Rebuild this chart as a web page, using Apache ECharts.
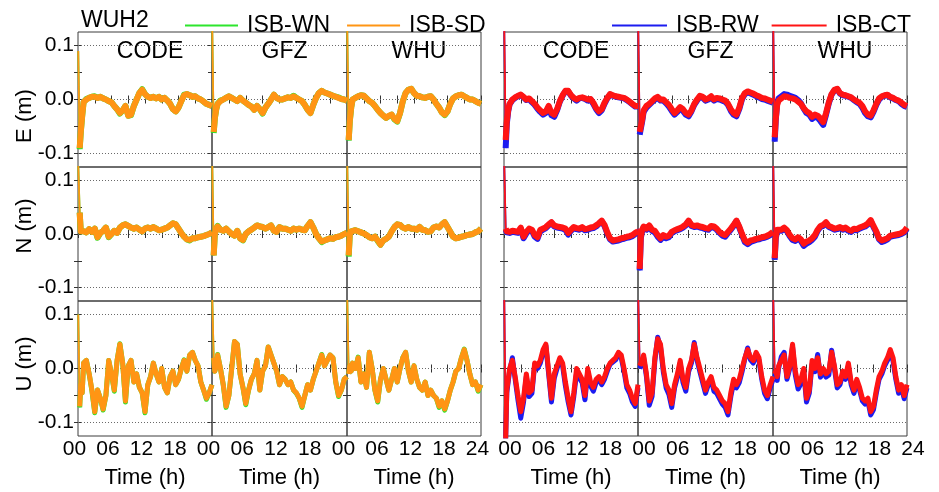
<!DOCTYPE html>
<html>
<head>
<meta charset="utf-8">
<script src="https://cdn.jsdelivr.net/npm/echarts@6/dist/echarts.min.js"></script>
<style>
html,body{margin:0;padding:0;background:#fff;}
#chart{width:939px;height:492px;}
</style>
</head>
<body>
<div id="chart"></div>
<script>
// Sample times (h) shared by every series
const hours = [0.05,0.3,0.5,0.75,1,1.5,2,2.5,3,3.5,4,4.5,5,5.5,6,6.5,7,7.5,8,8.5,9,9.5,10,10.5,11,11.5,12,12.5,13,13.5,14,14.5,15,15.5,16,16.5,17,17.5,18,18.5,19,19.5,20,20.5,21,21.5,22,22.5,23,23.5,24];

// Position errors in mm — ISB-SD
const sdE_CODE = [90,-90,-60,-30,-5, 0,3,5,5,3,5,2,0,-3,-5, -12,-18,-25,-20,-12,-30,-28,-12,0,12, 18,10,5,3,5,2,5,0,3,-2, -8,-18,-22,-15,-3,8,10,8,5,6, 2,0,-4,-8,-10,-12];
const sdE_GFZ = [130,-60,-35,-18,-8, -3,0,3,6,3,0,-3,3,-2,-6, -10,-13,-19,-12,-18,-25,-15,-8,0,9, 3,0,0,2,4,3,6,3,0,-3, -10,-19,-25,-10,3,12,16,13,11,9, 7,5,3,1,0,-2];
const sdE_WHU = [130,-75,-40,-15,0, 3,6,8,7,2,-3,-6,-12,-19,-25, -30,-34,-30,-28,-36,-40,-25,-3,12,18, 20,12,7,6,4,3,5,6,0,-8, -15,-24,-28,-22,-8,2,6,8,9,6, 3,0,0,-3,-6,-8];
const sdN_CODE = [130,40,5,8,5, 3,9,4,10,-6,2,6,12,-5,0, 6,2,12,16,18,15,12,10,12,8, 5,10,12,10,13,10,7,8,10,12, 16,20,18,10,2,-5,-10,-11,-8,-8, -6,-5,-4,-2,0,3];
const sdN_GFZ = [130,-40,0,10,14, 8,6,10,5,0,-3,6,-8,-11,0, 5,8,12,16,14,13,10,13,16,6, 4,13,10,10,8,6,10,8,10,8, 7,15,22,12,0,-8,-14,-12,-10,-8, -9,-6,-5,-3,0,2];
const sdN_WHU = [130,-40,0,5,4, 7,5,3,1,-2,-6,-8,-5,-12,-20, -12,-9,-5,5,13,18,17,12,10,13, 10,10,8,13,8,7,4,5,12,14, 12,18,22,13,4,-5,-8,-7,-5,-4, -2,-1,0,3,5,10];
const sdU_CODE = [100,-70,-30,-45,10, 15,-10,-40,-80,-40,-55,-75,-50,15,-10, -40,15,45,10,-60,5,15,-25,-10,-35, -45,-80,-30,-15,10,-10,-25,0,-35,-45, -15,-5,-30,-20,0,15,-5,25,30,15, 5,-25,-40,-55,-45,-30];
const sdU_GFZ = [130,20,-5,5,25, 0,-30,-70,-50,0,50,45,-10,-35,-65, -40,-20,-10,15,-40,-5,5,40,25,10, -5,-30,-15,-20,-30,-25,-40,-45,-55,-70, -50,-30,-40,-20,-5,10,25,5,15,25, 20,-25,-50,-40,-20,-15];
const sdU_WHU = [130,-10,5,-5,10, 0,20,-25,-10,-35,30,0,-40,-60,-20, 0,-20,-40,-20,0,-25,0,20,30,-5, -25,5,-20,-35,-40,-25,-50,-40,-50,-55, -70,-60,-75,-60,-40,-25,-5,0,20,35, 15,-10,-30,-25,-40,-30];

// ISB-WN
const wnE_CODE = [90,-92,-60,-30,-5, 1,3,5,6,3,5,2,0,-3,-5, -12,-18,-26,-20,-12,-30,-29,-12,0,12, 19,10,5,3,5,2,5,0,3,-2, -8,-18,-22,-15,-3,9,10,8,5,6, 2,0,-4,-8,-10,-12];
const wnE_GFZ = [130,-62,-35,-18,-8, -2,0,3,6,3,0,-3,3,-2,-6, -10,-13,-19,-12,-18,-26,-15,-8,0,9, 3,0,0,2,4,3,7,3,0,-3, -10,-19,-25,-10,3,12,16,13,11,9, 7,5,4,1,0,-2];
const wnE_WHU = [130,-76,-40,-15,0, 3,6,8,7,2,-3,-6,-12,-19,-25, -30,-34,-31,-28,-37,-41,-25,-3,12,18, 20,12,7,6,4,3,5,6,0,-8, -15,-24,-29,-22,-8,2,6,8,9,6, 3,0,0,-3,-6,-8];
const wnN_CODE = [130,40,5,8,5, 3,9,4,10,-7,2,6,12,-6,0, 6,2,12,16,18,15,12,10,12,8, 5,10,12,10,13,10,7,8,10,12, 16,20,18,10,2,-5,-10,-12,-8,-8, -6,-5,-4,-2,0,3];
const wnN_GFZ = [130,-40,0,10,15, 8,6,10,5,0,-3,6,-8,-12,0, 5,8,12,16,14,13,10,13,16,6, 4,13,10,10,8,6,10,8,10,8, 7,15,22,12,0,-8,-15,-12,-10,-8, -9,-6,-5,-3,0,2];
const wnN_WHU = [130,-42,0,5,4, 7,5,3,1,-2,-6,-8,-5,-13,-20, -12,-9,-5,5,13,18,17,12,10,13, 10,10,8,13,8,7,4,5,12,14, 12,18,22,13,4,-5,-8,-7,-5,-4, -2,-1,0,3,5,10];
const wnU_CODE = [100,-72,-30,-45,10, 15,-10,-42,-82,-40,-55,-77,-50,15,-10, -42,15,46,10,-62,5,15,-25,-10,-35, -45,-82,-30,-15,10,-10,-25,0,-35,-45, -15,-5,-30,-20,0,16,-5,25,30,15, 5,-25,-40,-57,-45,-30];
const wnU_GFZ = [130,20,-5,5,26, 0,-30,-72,-50,0,50,45,-10,-35,-67, -40,-20,-10,15,-40,-5,5,40,25,10, -5,-30,-15,-20,-30,-25,-40,-46,-55,-72, -50,-30,-40,-20,-5,10,26,5,15,25, 20,-25,-52,-40,-20,-15];
const wnU_WHU = [130,-10,5,-5,10, 0,21,-25,-10,-35,30,0,-40,-62,-20, 0,-20,-40,-20,0,-25,0,20,30,-5, -25,5,-20,-35,-40,-25,-50,-40,-50,-55, -72,-60,-77,-60,-40,-25,-5,0,20,36, 15,-10,-30,-25,-42,-30];

// ISB-CT
const ctE_CODE = [130,-75,-40,-20,-8, 0,4,7,9,5,0,2,-3,-8,-15, -20,-25,-22,-12,-25,-28,-18,-3,8,16, 16,8,3,0,3,4,2,0,1,-6, -16,-22,-18,-6,3,10,8,6,5,4, 3,0,-4,-8,-12,-12];
const ctE_GFZ = [130,-60,-50,-37,-20, -12,-8,-3,2,5,0,0,-5,-10,-18, -25,-20,-14,-18,-25,-28,-20,-8,0,7, 5,0,2,6,0,3,2,0,-2,-8, -18,-25,-28,-15,3,12,15,13,11,8, 6,3,2,0,-2,-4];
const ctE_WHU = [130,-70,-35,-10,-2, 2,6,5,3,2,0,-4,-8,-16,-22, -25,-32,-28,-30,-35,-42,-25,-5,10,18, 20,12,9,8,6,4,0,-3,-6,-12, -22,-28,-30,-20,-8,2,6,8,9,5, 3,0,-2,-6,-10,-12];
const ctN_CODE = [130,10,5,7,4, 6,5,4,12,-5,4,10,8,-2,-6, 8,10,13,18,22,16,14,13,12,10, 2,8,13,11,10,13,9,10,12,13, 16,20,25,17,3,-8,-12,-11,-10,-8, -7,-5,-4,-2,2,5];
const ctN_GFZ = [10,-65,-5,8,14, 10,16,8,6,-2,-8,-2,-5,-3,4, 7,9,11,14,18,25,17,15,16,14, 13,11,10,15,14,10,4,0,-2,4, 10,17,25,14,0,-12,-16,-12,-11,-9, -8,-6,-5,-3,0,4];
const ctN_WHU = [130,-45,-5,8,6, 8,12,7,-2,-8,-10,-6,-10,-18,-14, -12,-8,-2,8,15,17,22,15,13,10, 11,13,10,12,8,6,10,9,12,14, 16,20,26,15,5,-8,-12,-10,-8,-3, -2,-1,0,2,5,12];
const ctU_CODE = [130,-130,-40,-40,0, 15,-15,-50,-80,-55,-10,-45,-40,10,5, 15,35,45,-5,-55,-10,5,20,10,-25, -55,-80,-45,0,-10,-20,-50,0,-25,-35, -20,-15,-25,-15,0,10,15,20,30,25, 0,-30,-40,-55,-65,-30];
const ctU_GFZ = [130,5,10,10,25, -10,-60,-45,20,55,45,0,-30,-40,-65, -30,-10,15,-20,-35,0,15,45,20,0, -20,-40,-25,-15,-35,-40,-50,-60,-65,-80, -45,-20,-30,-20,0,20,35,20,15,30, 20,-15,-40,-50,-30,-15];
const ctU_WHU = [130,-10,-5,-15,5, 15,25,-15,5,45,-5,-30,-20,0,-55, -40,15,0,20,-10,0,-10,-5,30,5, -30,-25,-5,-15,10,-25,-40,-20,-35,-55, -60,-55,-80,-70,-40,-15,-5,10,20,35, 20,-15,-40,-30,-50,-30];

// ISB-RW
const rwE_CODE = [130,-90,-45,-22,-9, -1,3,6,8,4,-1,1,-5,-10,-17, -23,-28,-25,-14,-29,-32,-20,-4,7,15, 15,7,2,-2,2,3,1,-2,0,-8, -18,-25,-20,-8,2,9,7,5,4,3, 2,-1,-5,-9,-13,-13];
const rwE_GFZ = [130,-65,-54,-40,-23, -15,-10,-5,0,3,-2,-2,-7,-13,-21, -28,-23,-16,-21,-28,-31,-22,-10,-2,5, 3,-2,0,4,-2,1,0,-2,-4,-10, -21,-28,-31,-18,1,10,13,11,9,6, 4,1,0,-2,-4,-6];
const rwE_WHU = [130,-78,-38,-6,2, 6,10,9,7,5,3,-1,-7,-17,-25, -28,-36,-32,-34,-40,-47,-28,-7,9,17, 19,11,8,7,5,3,-1,-5,-8,-15, -25,-31,-33,-23,-10,0,5,7,8,4, 2,-1,-3,-8,-12,-14];
const rwN_CODE = [130,8,3,5,2, 4,3,2,10,-8,1,8,6,-5,-9, 5,8,11,16,21,14,12,11,10,8, -1,6,11,9,8,11,7,8,10,11, 14,19,24,15,1,-10,-14,-13,-12,-10, -9,-7,-6,-4,0,3];
const rwN_GFZ = [10,-68,-8,6,12, 8,14,6,3,-5,-11,-5,-8,-6,2, 5,7,9,12,16,24,15,13,14,12, 11,9,8,13,12,8,2,-3,-5,2, 8,15,24,12,-2,-15,-19,-15,-13,-11, -10,-8,-7,-5,-2,2];
const rwN_WHU = [130,-48,-8,6,4, 6,10,5,-4,-11,-13,-9,-13,-22,-18, -15,-11,-5,6,13,15,20,13,11,8, 9,11,8,10,6,4,8,7,10,12, 14,18,24,13,3,-10,-15,-13,-10,-5, -4,-3,-2,0,3,10];
const rwU_CODE = [130,-130,-45,-45,-5, 20,-20,-58,-92,-62,-15,-52,-46,8,0, 10,30,42,-10,-62,-18,0,15,5,-32, -62,-86,-52,-8,-18,-26,-58,-6,-32,-42, -26,-20,-30,-20,-5,8,12,16,26,20, -5,-36,-46,-62,-70,-36];
const rwU_GFZ = [130,0,5,5,20, -15,-68,-52,15,58,40,-6,-36,-48,-72, -36,-16,10,-26,-42,-6,10,48,15,-6, -26,-46,-30,-20,-42,-46,-56,-66,-72,-86, -52,-26,-36,-26,-6,18,38,16,10,26, 15,-20,-46,-56,-36,-20];
const rwU_WHU = [130,-15,-10,-22,0, 22,30,-20,0,40,-12,-38,-28,-6,-62, -46,8,-6,26,-16,-6,-16,-12,34,0, -36,-30,-10,-20,5,-30,-46,-26,-40,-60, -66,-60,-86,-76,-46,-20,-10,5,15,30, 14,-20,-46,-36,-56,-36];

// Labels
const centres = ['CODE', 'GFZ', 'WHU'];
const components = ['E', 'N', 'U'];
const xTickHours = [0, 6, 12, 18, 24];
const yTickLabels = [-0.1, 0, 0.1];
const yMinorTicks = [-0.1, -0.05, 0, 0.05, 0.1];

const FONT = '"Liberation Sans", Arial, sans-serif';
const COLORS = { 'ISB-WN': '#2de52d', 'ISB-SD': '#ff9514', 'ISB-RW': '#1c1cf0', 'ISB-CT': '#ff1414' };

// Panel series: [secondary, primary] per group, row, column
const panelData = [
  [ // left group
    [[wnE_CODE, sdE_CODE], [wnE_GFZ, sdE_GFZ], [wnE_WHU, sdE_WHU]],
    [[wnN_CODE, sdN_CODE], [wnN_GFZ, sdN_GFZ], [wnN_WHU, sdN_WHU]],
    [[wnU_CODE, sdU_CODE], [wnU_GFZ, sdU_GFZ], [wnU_WHU, sdU_WHU]]
  ],
  [ // right group
    [[rwE_CODE, ctE_CODE], [rwE_GFZ, ctE_GFZ], [rwE_WHU, ctE_WHU]],
    [[rwN_CODE, ctN_CODE], [rwN_GFZ, ctN_GFZ], [rwN_WHU, ctN_WHU]],
    [[rwU_CODE, ctU_CODE], [rwU_GFZ, ctU_GFZ], [rwU_WHU, ctU_WHU]]
  ]
];
const seriesNames = [['ISB-WN', 'ISB-SD'], ['ISB-RW', 'ISB-CT']];

// Layout of the 2 x 3 x 3 panel matrix (px)
const colEdges = [[78, 212, 347, 481], [504, 638, 773, 907]];
const rowEdges = [32, 167, 301, 436];

const grids = [], xAxes = [], yAxes = [], series = [], graphics = [];
const pad2 = v => (v < 10 ? '0' : '') + v;
const toPoints = (vals, from, to) => hours.slice(from, to).map((t, i) => [t, vals[from + i] / 1000]);

for (let g = 0; g < 2; g++) {
  for (let r = 0; r < 3; r++) {
    for (let c = 0; c < 3; c++) {
      const gi = grids.length;
      const left = colEdges[g][c], right = colEdges[g][c + 1];
      const top = rowEdges[r], bottom = rowEdges[r + 1];
      grids.push({
        left: left, top: top, width: right - left, height: bottom - top,
        show: true, borderColor: '#3c3c3c', borderWidth: 1, backgroundColor: 'transparent'
      });
      const isBottomRow = r === 2;
      const lastCol = c === 2;
      const tickStyle = { show: true, inside: true, length: 4, lineStyle: { color: '#333', width: 1 } };
      // bottom time axis
      xAxes.push({
        type: 'value', gridIndex: gi, position: 'bottom', min: 0, max: 24, interval: 3,
        axisLine: { show: false }, splitLine: { show: false },
        axisTick: tickStyle,
        axisLabel: {
          show: isBottomRow, margin: 3, fontSize: 21, color: '#000', fontFamily: FONT,
          padding: g === 0 ? [0, 7, 0, 0] : [0, 0, 0, 12],
          formatter: v => (xTickHours.indexOf(v) >= 0 && (v < 24 || lastCol)) ? pad2(v) : ''
        },
        name: isBottomRow ? 'Time (h)' : '', nameLocation: 'middle', nameGap: 31,
        nameTextStyle: { fontSize: 22, color: '#000', fontFamily: FONT }
      });
      // mirrored top axis
      xAxes.push({
        type: 'value', gridIndex: gi, position: 'top', min: 0, max: 24, interval: 3,
        axisLine: { show: false }, splitLine: { show: false },
        axisTick: tickStyle, axisLabel: { show: false }
      });
      const showYLabels = g === 0 && c === 0;
      yAxes.push({
        type: 'value', gridIndex: gi, position: 'left', min: -0.125, max: 0.125,
        axisLine: { show: false }, splitLine: { show: false },
        axisTick: Object.assign({ customValues: yMinorTicks }, tickStyle),
        axisLabel: {
          show: showYLabels, customValues: yTickLabels, margin: 4, fontSize: 21, color: '#000', fontFamily: FONT,
          formatter: v => (Math.abs(v) < 1e-9 ? 0 : v).toFixed(1)
        }
      });
      yAxes.push({
        type: 'value', gridIndex: gi, position: 'right', min: -0.125, max: 0.125,
        axisLine: { show: false }, splitLine: { show: false },
        axisTick: Object.assign({ customValues: yMinorTicks }, tickStyle),
        axisLabel: { show: false }
      });
      // the noisy 30 s solutions read as a thick band; the start-up jump is a thin stroke
      const width = r === 2 ? 5 : 6;
      const pair = panelData[g][r][c];
      pair.forEach((vals, k) => {
        const name = seriesNames[g][k];
        const common = {
          type: 'line', name: name, xAxisIndex: 2 * gi, yAxisIndex: 2 * gi,
          showSymbol: false, symbol: 'none', clip: true, animation: false,
          itemStyle: { color: COLORS[name] }, z: 2 + k
        };
        const band = Object.assign({}, common, {
          data: toPoints(vals, 1, hours.length),
          lineStyle: { color: COLORS[name], width: width, join: 'round' }
        });
        const jump = Object.assign({}, common, {
          data: toPoints(vals, 0, 3),
          lineStyle: { color: COLORS[name], width: 1.8 }
        });
        if (k === 0) {
          band.markLine = {
            silent: true, symbol: ['none', 'none'], z: 1, animation: false,
            label: { show: false },
            lineStyle: { type: [1, 2], color: '#6a6a6a', width: 1 },
            data: yTickLabels.map(v => ({ yAxis: v }))
          };
        }
        series.push(band, jump);
      });
      // panel title
      if (r === 0) {
        graphics.push({
          type: 'text', x: (left + right) / 2 + 5, y: 52,
          style: { text: centres[c], font: '23px ' + FONT, fill: '#000', align: 'center', verticalAlign: 'middle' }
        });
      }
    }
  }
}

// component names on the left
const yNameCentres = [116, 226, 364];
components.forEach((comp, r) => {
  graphics.push({
    type: 'text', x: 25, y: yNameCentres[r], rotation: Math.PI / 2,
    style: { text: comp + ' (m)', font: '22px ' + FONT, fill: '#000', align: 'center', verticalAlign: 'middle' }
  });
});
// station name
graphics.push({
  type: 'text', x: 81, y: 21,
  style: { text: 'WUH2', font: '23px ' + FONT, fill: '#000', align: 'left', verticalAlign: 'middle' }
});

const legendText = { fontSize: 23, color: '#000', fontFamily: FONT, padding: [0, 0, 0, 4] };
const option = {
  animation: false,
  backgroundColor: '#fff',
  grid: grids,
  xAxis: xAxes,
  yAxis: yAxes,
  series: series,
  graphic: graphics,
  legend: [
    { data: ['ISB-WN', 'ISB-SD'], left: 180, top: 9, icon: 'rect', itemWidth: 53, itemHeight: 2, itemGap: 17, textStyle: legendText, selectedMode: false },
    { data: ['ISB-RW', 'ISB-CT'], left: 607, top: 9, icon: 'rect', itemWidth: 55, itemHeight: 2, itemGap: 13, textStyle: legendText, selectedMode: false }
  ]
};

const chart = echarts.init(document.getElementById('chart'), null, { renderer: 'canvas' });
chart.setOption(option);
</script>
</body>
</html>
